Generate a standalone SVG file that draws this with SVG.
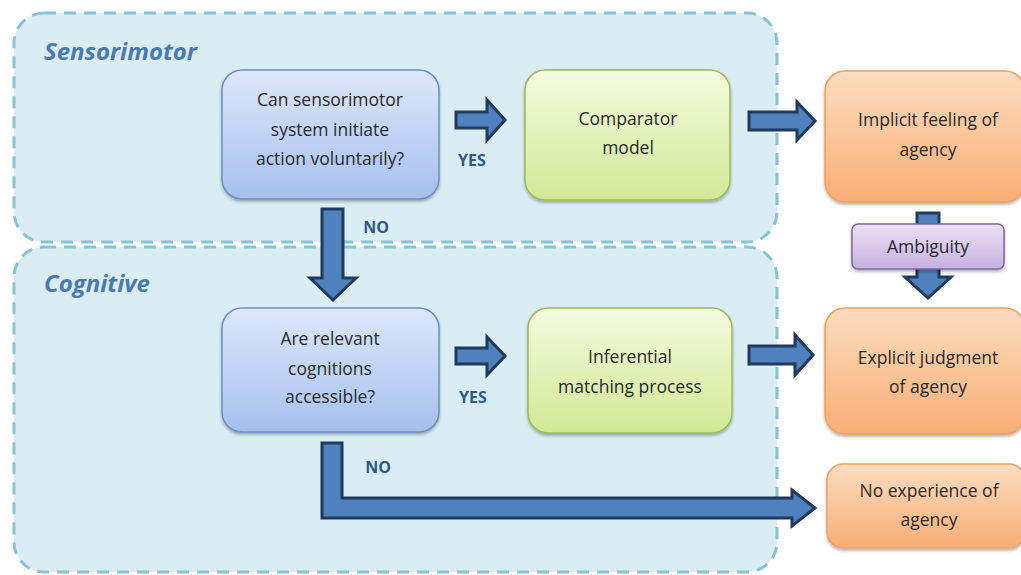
<svg xmlns="http://www.w3.org/2000/svg" width="1021" height="575" viewBox="0 0 1021 575">
<style>
.zone{fill:#daedf4;stroke:#86c4d4;stroke-width:3;stroke-dasharray:12 8}
.ztitle{font-family:"Open Sans","Liberation Sans",sans-serif;font-weight:bold;font-style:italic;font-size:24px;fill:#4a7ab2}
.t{font-family:"Open Sans","Liberation Sans",sans-serif;font-size:17.5px;fill:#2a2a2a;text-anchor:middle}
.lab{font-family:"Open Sans","Liberation Sans",sans-serif;font-weight:bold;font-size:16px;fill:#2f5a8c;text-anchor:middle}
.arr{fill:#4f81bd;stroke:#1f3a5c;stroke-width:3;stroke-linejoin:miter}
.q{fill:url(#gBlue);stroke:#6e8fc3;stroke-width:1.5;filter:url(#sh)}
.g{fill:url(#gGreen);stroke:#9bbb59;stroke-width:1.5;filter:url(#sh)}
.o{fill:url(#gOrange);stroke:#f0a060;stroke-width:1.5;filter:url(#sh)}
.p{fill:url(#gPurple);stroke:#8064a2;stroke-width:1.5;filter:url(#sh)}
</style>
<defs>
<linearGradient id="gBlue" x1="0" y1="0" x2="0" y2="1"><stop offset="0" stop-color="#dde7fb"/><stop offset="1" stop-color="#a5c0ef"/></linearGradient>
<linearGradient id="gGreen" x1="0" y1="0" x2="0" y2="1"><stop offset="0" stop-color="#f5fbdf"/><stop offset="1" stop-color="#d0e995"/></linearGradient>
<linearGradient id="gOrange" x1="0" y1="0" x2="0" y2="1"><stop offset="0" stop-color="#fddcc0"/><stop offset="1" stop-color="#f9ae74"/></linearGradient>
<linearGradient id="gPurple" x1="0" y1="0" x2="0" y2="1"><stop offset="0" stop-color="#ece2f4"/><stop offset="1" stop-color="#c6b0e0"/></linearGradient>
<filter id="sh" x="-10%" y="-10%" width="120%" height="130%"><feDropShadow dx="0" dy="2" stdDeviation="1.5" flood-color="#000" flood-opacity="0.3"/></filter>
</defs>
<rect width="1021" height="575" fill="#fff"/>
<g id="zone-sensorimotor">
<rect class="zone" x="14" y="13" width="763" height="229" rx="30"/>
<text class="ztitle" x="44" y="60">Sensorimotor</text>
</g>
<g id="zone-cognitive">
<rect class="zone" x="14" y="247" width="763" height="325" rx="30"/>
<text class="ztitle" x="44" y="292">Cognitive</text>
</g>
<g id="connectors">
<polygon class="arr" points="456,112 487,112 487,100 505,120 487,140 487,128 456,128"/>
<polygon class="arr" points="749,112 797,112 797,102 815,121 797,140 797,130 749,130"/>
<polygon class="arr" points="456,348 487,348 487,337 505,356 487,375 487,364 456,364"/>
<polygon class="arr" points="749,346 795,346 795,335 813,355 795,375 795,364 749,364"/>
<polygon class="arr" points="322,209 343,209 343,278 356,278 333,300 310,278 322,278"/>
<polygon class="arr" points="917,213 939,213 939,277 951,277 928,298 905,277 917,277"/>
<polygon class="arr" points="322,443 342,443 342,498 792,498 792,490 815,508 792,526 792,518 322,518"/>
<text class="lab" x="472" y="166">YES</text>
<text class="lab" x="376" y="233">NO</text>
<text class="lab" x="473" y="403">YES</text>
<text class="lab" x="378" y="473">NO</text>
</g>
<g id="node-q1">
<rect class="q" x="222" y="70" width="217" height="129" rx="20"/>
<text class="t" x="330" y="106">Can sensorimotor</text>
<text class="t" x="330" y="136">system initiate</text>
<text class="t" x="330" y="165">action voluntarily?</text>
</g>
<g id="node-comparator">
<rect class="g" x="525" y="70" width="205" height="130" rx="20"/>
<text class="t" x="628" y="125">Comparator</text>
<text class="t" x="628" y="154">model</text>
</g>
<g id="node-implicit">
<rect class="o" x="825" y="71" width="200" height="131" rx="20"/>
<text class="t" x="928" y="126">Implicit feeling of</text>
<text class="t" x="928" y="156">agency</text>
</g>
<g id="node-ambiguity">
<rect class="p" x="852" y="224" width="152" height="45" rx="6"/>
<text class="t" x="928" y="253">Ambiguity</text>
</g>
<g id="node-q2">
<rect class="q" x="222" y="308" width="217" height="124" rx="20"/>
<text class="t" x="330" y="345">Are relevant</text>
<text class="t" x="330" y="375">cognitions</text>
<text class="t" x="330" y="403">accessible?</text>
</g>
<g id="node-inferential">
<rect class="g" x="528" y="308" width="204" height="125" rx="20"/>
<text class="t" x="630" y="363">Inferential</text>
<text class="t" x="630" y="393">matching process</text>
</g>
<g id="node-explicit">
<rect class="o" x="825" y="308" width="200" height="126" rx="20"/>
<text class="t" x="928" y="364">Explicit judgment</text>
<text class="t" x="928" y="393">of agency</text>
</g>
<g id="node-noexp">
<rect class="o" x="827" y="464" width="198" height="84" rx="16"/>
<text class="t" x="929" y="497">No experience of</text>
<text class="t" x="929" y="526">agency</text>
</g>
</svg>
